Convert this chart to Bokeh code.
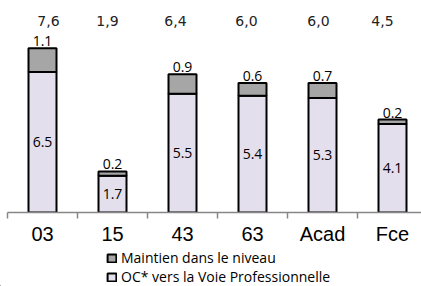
from bokeh.plotting import figure
from bokeh.layouts import column
from bokeh.models import ColumnDataSource, Range1d, LinearAxis, FixedTicker, Legend, LegendItem
from bokeh.core.properties import value
from bokeh.embed import file_html
from bokeh.resources import INLINE

categories = ["03", "15", "43", "63", "Acad", "Fce"]
oc_voie_pro = [6.5, 1.7, 5.5, 5.4, 5.3, 4.1]
maintien = [1.1, 0.2, 0.9, 0.6, 0.7, 0.2]
totals = ["7,6", "1,9", "6,4", "6,0", "6,0", "4,5"]

# small horizontal nudges (px) of the total labels, as in the original
total_dx = [6, -5, -7, -6, -4, -10]

x = list(range(len(categories)))
tops = [a + b for a, b in zip(oc_voie_pro, maintien)]
src = ColumnDataSource(dict(
    x=x, oc=oc_voie_pro, top=tops, mid=[v / 2 for v in oc_voie_pro],
    oc_lbl=[f"{v:.1f}" for v in oc_voie_pro],
    m_lbl=[f"{v:.1f}" for v in maintien],
    tot=totals, tdx=total_dx,
))

W = 421
PX = 70.0
FH = 212
UNIT = 21.6
x0 = -0.5 - 7 / PX
x1 = x0 + W / PX
LEG_H = 38
p = figure(frame_width=W, frame_height=FH, output_backend="svg", toolbar_location=None,
           x_axis_location=None, y_axis_location=None,
           x_range=Range1d(x0, x1), y_range=Range1d(0, FH / UNIT),
           min_border_left=0, min_border_right=0, min_border_top=0,
           min_border_bottom=286 - FH - LEG_H)
p.outline_line_color = None
p.background_fill_color = None
p.border_fill_color = None
p.grid.visible = False

bar_oc = dict(fill_color="#E4DFEC", line_color="black", line_width=2)
bar_m = dict(fill_color="#A6A6A6", line_color="black", line_width=2)
p.vbar(x="x", bottom=0, top="oc", width=0.4, source=src, **bar_oc)
p.vbar(x="x", bottom="oc", top="top", width=0.4, source=src, **bar_m)

p.text(x="x", y="mid", text="oc_lbl", source=src, text_align="center",
       text_baseline="middle", text_font=value("Open Sans"), text_font_size="14px",
       text_color="black")
p.text(x="x", y="top", text="m_lbl", source=src, text_align="center",
       text_baseline="bottom", y_offset=-2, text_font=value("Open Sans"),
       text_font_size="14px", text_color="black")
p.text(x="x", y=(FH - 20) / UNIT, text="tot", source=src, text_align="center",
       text_baseline="middle", x_offset="tdx", text_font=value("DejaVu Sans"),
       text_font_size="14px", text_color="#222222")

ax = LinearAxis(ticker=FixedTicker(ticks=x, minor_ticks=[i - 0.5 for i in range(len(categories) + 1)]))
ax.bounds = (-0.5, x1)
ax.major_label_overrides = {i: c for i, c in zip(x, categories)}
ax.major_tick_out = 0
ax.major_tick_in = 0
ax.minor_tick_out = 6
ax.minor_tick_in = 0
ax.minor_tick_line_color = "#868686"
ax.minor_tick_line_width = 1.5
ax.axis_line_color = "#868686"
ax.axis_line_width = 1.5
ax.major_label_standoff = 4
ax.major_label_text_font = "Liberation Sans"
ax.major_label_text_font_size = "20px"
ax.major_label_text_color = "black"
p.add_layout(ax, "below")

# legend strip (separate figure under the chart); its bar renderers use the same
# data but lie entirely outside its visible ranges, so only the legend shows
q = figure(frame_width=W, frame_height=LEG_H, output_backend="svg", toolbar_location=None,
           x_axis_location=None, y_axis_location=None,
           x_range=Range1d(0.3, 0.7), y_range=Range1d(20, 30),
           min_border_left=0, min_border_right=0, min_border_top=0, min_border_bottom=0)
q.outline_line_color = None
q.background_fill_color = None
q.border_fill_color = None
q.grid.visible = False
lr_m = q.vbar(x="x", bottom="oc", top="top", width=0.4, source=src, **bar_m)
lr_oc = q.vbar(x="x", bottom=0, top="oc", width=0.4, source=src, **bar_oc)


def make_legend(label, renderer, loc):
    lg = Legend(items=[LegendItem(label=label, renderers=[renderer])],
                orientation="vertical", location=loc)
    lg.border_line_color = None
    lg.background_fill_alpha = 0
    lg.padding = 0
    lg.margin = 0
    lg.spacing = 0
    lg.glyph_width = 11
    lg.glyph_height = 10
    lg.label_height = 19
    lg.label_standoff = 4
    lg.label_text_font = "Open Sans"
    lg.label_text_font_size = "14px"
    lg.label_text_color = "black"
    return lg


q.add_layout(make_legend("Maintien dans le niveau", lr_m, (106, 19)))
q.add_layout(make_legend("OC* vers la Voie Professionnelle", lr_oc, (106, 0)))

layout = column(p, q, spacing=0)
open("out.html", "w").write(file_html(layout, INLINE))
